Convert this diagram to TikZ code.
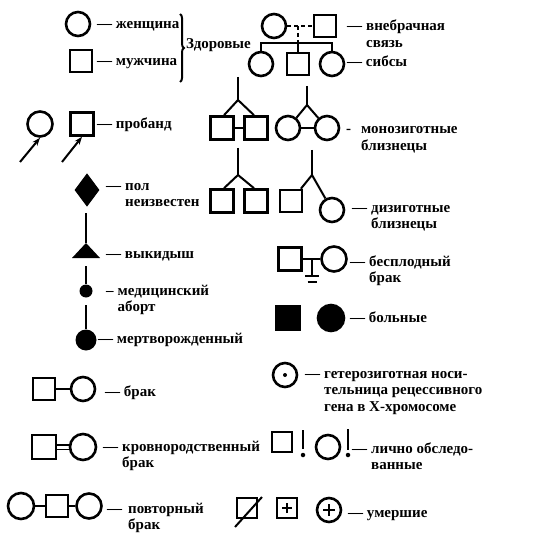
\documentclass[tikz,border=0pt]{standalone}
\usepackage{fontspec}
\setmainfont{Liberation Serif}
\usetikzlibrary{shapes.geometric,arrows.meta,decorations.pathreplacing}
\newcommand\lblfont{\fontsize{15}{16.5}\selectfont\bfseries}
\newcommand\dl[2][4pt]{\begin{tabular}[t]{@{}l@{\hspace{#1}}l@{}}#2\end{tabular}}
\tikzset{
  fem/.style={circle,draw,line width=2.6pt,minimum size=24pt,inner sep=0pt},
  mal/.style={rectangle,draw,line width=2.6pt,minimum size=22pt,inner sep=0pt},
  lbl/.style={anchor=base west,inner sep=0pt,font=\lblfont},
  ln/.style={line width=2pt},
  dotn/.style={circle,fill,inner sep=0pt,minimum size=#1},
}
\begin{document}
\begin{tikzpicture}[x=1pt,y=-1pt]
\fill[white] (0,0) rectangle (534,548);
\useasboundingbox (0,0) rectangle (534,548);
% healthy
\node[fem] (f1) at (78,24) {};
\node[lbl] (lf1) at (97,29) {— женщина};
\node[mal] (m1) at (81,61) {};
\node[lbl] (lm1) at (97,66) {— мужчина};
\draw[ln,decorate,decoration={brace,amplitude=4pt}] (180,14) -- (180,82);
\node[lbl] (zd) at (186,49) {Здоровые};
% extramarital
\node[fem] (c2) at (274,26) {};
\node[mal] (s2) at (325,26) {};
\draw[ln,dash pattern=on 4pt off 3pt] (c2) -- (s2);
\coordinate (u) at (298,26);
\coordinate (u2) at (298,43);
\draw[ln,dash pattern=on 4pt off 3pt] (u) -- (u2);
\node[fem] (c3) at (261,64) {};
\node[mal] (s3) at (298,64) {};
\node[fem] (c4) at (332,64) {};
\draw[ln] (c3.north) -- (c3.north |- u2) -- (c4.north |- u2) -- (c4.north);
\draw[ln] (s3.north) -- (u2);
\node[lbl] (l2) at (347,31) {\dl{— & внебрачная\\ & связь}};
\node[lbl] (l3) at (347,67) {— сибсы};
% monozygotic
\coordinate (a1t) at (238,77);
\coordinate (a1) at (238,100);
\node[mal,minimum size=23pt] (t1) at (222,128) {};
\node[mal,minimum size=23pt] (t2) at (256,128) {};
\draw[ln] (a1t) -- (a1);
\draw[ln] ([xshift=2pt]t1.north) -- (a1) -- ([xshift=-2pt]t2.north);
\draw[ln] (t1) -- (t2);
\coordinate (a2t) at (307,86);
\coordinate (a2) at (307,105);
\node[fem] (tc1) at (288,128) {};
\node[fem] (tc2) at (327,128) {};
\draw[ln] (a2t) -- (a2);
\draw[ln] (tc1) -- (a2) -- (tc2);
\draw[ln] (tc1) -- (tc2);
\node[lbl] (l5) at (346,134) {\dl[10pt]{- & монозиготные\\ & близнецы}};
% dizygotic
\coordinate (b1t) at (238,148);
\coordinate (b1) at (238,175);
\node[mal,minimum size=23pt] (d1) at (222,201) {};
\node[mal,minimum size=23pt] (d2) at (256,201) {};
\draw[ln] (b1t) -- (b1);
\draw[ln] ([xshift=2pt]d1.north) -- (b1) -- ([xshift=-2pt]d2.north);
\coordinate (b2t) at (312,150);
\coordinate (b2) at (312,175);
\node[mal] (d3) at (291,201) {};
\node[fem] (d4) at (332,210) {};
\draw[ln] (b2t) -- (b2);
\draw[ln] (d3) -- (b2) -- (d4);
\node[lbl] (l6) at (352,212) {\dl{— & дизиготные\\ & близнецы}};
% proband
\node[fem,minimum size=25pt] (p1) at (40,124) {};
\coordinate (pa1) at (20,162);
\draw[ln,-{Stealth[length=8pt,width=6pt]}] (pa1) -- (p1.south);
\node[mal,minimum size=23pt] (p2) at (82,124) {};
\coordinate (pa2) at (62,162);
\draw[ln,-{Stealth[length=8pt,width=6pt]}] (pa2) -- (p2.south);
\node[lbl] (l7) at (97,129) {— пробанд};
% sex unknown
\node[diamond,draw,fill,line width=1pt,minimum width=24pt,minimum height=32pt,inner sep=0pt] (di) at (87,190) {};
\node[lbl] (l8) at (106,190) {\dl{— & пол\\ & неизвестен}};
% miscarriage
\coordinate (trt) at (86,213);
\coordinate (tra) at (86,243);
\draw[ln] (trt) -- (tra);
\fill (tra) -- (100,258) -- (72,258) -- cycle;
\node[lbl] (l9) at (106,258) {— выкидыш};
% abortion
\coordinate (abt) at (86,266);
\node[dotn=13pt] (ab) at (86,291) {};
\draw[ln] (abt) -- (ab);
\node[lbl] (l10) at (106,295) {\dl{– & медицинский\\ & аборт}};
% stillborn
\coordinate (stt) at (86,305);
\node[dotn=21pt] (st) at (86,340) {};
\draw[ln] (stt) -- (st);
\node[lbl] (l11) at (98,343) {— мертворожденный};
% sterile
\node[mal,minimum size=23pt] (sb1) at (290,259) {};
\node[fem,minimum size=25pt] (sb2) at (334,259) {};
\draw[ln] (sb1) -- (sb2);
\coordinate (sbm) at (312,259);
\coordinate (sbb) at (312,276);
\draw[ln] (sbm) -- (sbb);
\draw[ln] ([xshift=-7pt]sbb) -- ([xshift=7pt]sbb);
\draw[ln] ([xshift=-4.5pt,yshift=-6pt]sbb) -- ([xshift=4.5pt,yshift=-6pt]sbb);
\node[lbl] (l12) at (350,266) {\dl{— & бесплодный\\ & брак}};
% affected
\node[mal,fill,minimum size=24pt] (af1) at (288,318) {};
\node[fem,fill,minimum size=26pt] (af2) at (331,318) {};
\node[lbl] (l13) at (350,322) {— больные};
% marriage
\node[mal] (br1) at (44,389) {};
\node[fem] (br2) at (83,389) {};
\draw[ln] (br1) -- (br2);
\node[lbl] (l14) at (105,396) {— брак};
% consanguineous
\node[mal,minimum size=24pt] (k1) at (44,447) {};
\node[fem,minimum size=26pt] (k2) at (83,447) {};
\draw[line width=1.4pt] ([yshift=2.2pt]k1.east) -- ([yshift=2.2pt]k2.west);
\draw[line width=1.4pt] ([yshift=-2.2pt]k1.east) -- ([yshift=-2.2pt]k2.west);
\node[lbl] (l15) at (103,451) {\dl{— & кровнородственный\\ & брак}};
% repeated
\node[fem,minimum size=26pt] (r1) at (21,506) {};
\node[mal] (r2) at (57,506) {};
\node[fem,minimum size=25pt] (r3) at (89,506) {};
\draw[ln] (r1) -- (r2);
\draw[ln] (r2) -- (r3);
\node[lbl] (l16) at (107,513) {\dl[6pt]{— & повторный\\ & брак}};
% heterozygous
\node[fem] (h) at (285,375) {};
\node[dotn=4pt] (hd) at (h) {};
\node[lbl] (l17) at (305,378) {\dl{— & гетерозиготная носи-\\ & тельница рецессивного\\ & гена в Х-хромосоме}};
% examined
\node[mal,minimum size=20pt] (e1) at (282,442) {};
\coordinate (e1a) at (303,430);
\coordinate (e1b) at (303,449);
\draw[ln] (e1a) -- (e1b);
\node[dotn=4.5pt] (e1d) at (303,455) {};
\node[fem] (e2) at (328,447) {};
\coordinate (e2a) at (348,429);
\coordinate (e2b) at (348,450);
\draw[ln] (e2a) -- (e2b);
\node[dotn=4.5pt] (e2d) at (348,455) {};
\node[lbl] (l18) at (352,453) {\dl{— & лично обследо-\\ & ванные}};
% deceased
\node[mal,minimum size=20pt] (x1) at (247,508) {};
\coordinate (x1a) at (235,527);
\coordinate (x1b) at (262,497);
\draw[ln] (x1a) -- (x1b);
\node[mal,minimum size=20pt] (x2) at (287,508) {};
\draw[ln] ([xshift=-5pt]x2.center) -- ([xshift=5pt]x2.center);
\draw[ln] ([yshift=-5pt]x2.center) -- ([yshift=5pt]x2.center);
\node[fem] (x3) at (329,510) {};
\draw[ln] ([xshift=-6pt]x3.center) -- ([xshift=6pt]x3.center);
\draw[ln] ([yshift=-6pt]x3.center) -- ([yshift=6pt]x3.center);
\node[lbl] (l19) at (348,517) {— умершие};
\end{tikzpicture}
\end{document}
